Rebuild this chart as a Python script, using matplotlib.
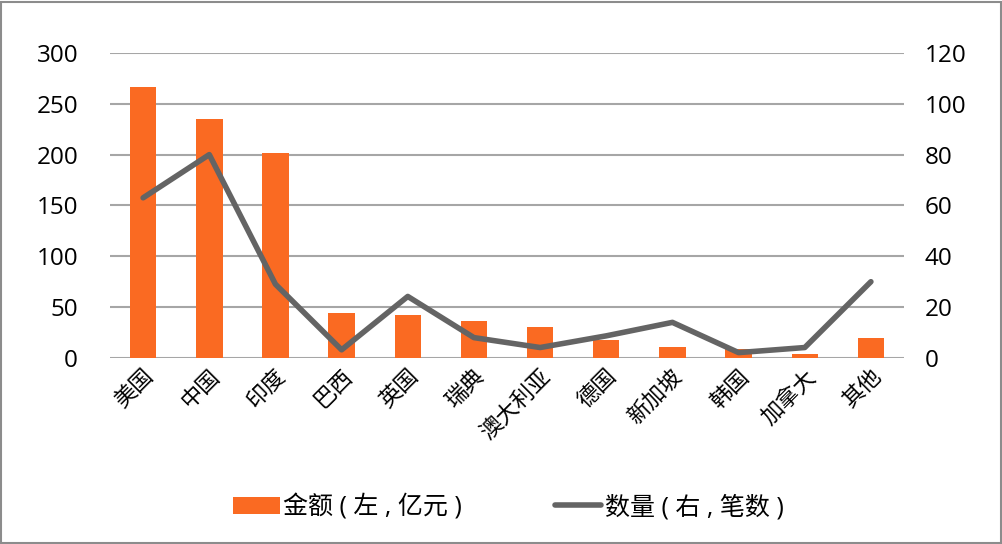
import matplotlib
matplotlib.use('Agg')
import matplotlib.pyplot as plt
import numpy as np
from matplotlib.patches import Rectangle

plt.rcParams['font.family'] = ['Open Sans', 'Noto Sans CJK SC', 'DejaVu Sans']

countries = ['美国', '中国', '印度', '巴西', '英国', '瑞典', '澳大利亚', '德国', '新加坡', '韩国', '加拿大', '其他']
amount = [266.5, 235.5, 201.5, 44, 42, 36.5, 30.5, 17.7, 11.1, 8.8, 4.3, 19.4]   # 亿元, left
count = [63, 80, 29, 3.2, 24.2, 8, 4.1, 8.7, 14, 2.1, 4.1, 30]   # 笔数, right
left_ticks = [0, 50, 100, 150, 200, 250, 300]
right_ticks = [0, 20, 40, 60, 80, 100, 120]

bar_color = '#FA6A22'
line_color = '#646464'
grid_color = '#A6A6A6'

fig = plt.figure(figsize=(10.03, 5.44), dpi=100)
ax = fig.add_axes([0.1097, 0.342, 0.7916, 0.5607])
ax2 = ax.twinx()

x = np.arange(len(countries))
ax.bar(x, amount, width=0.4, color=bar_color, zorder=2, label='金额 ( 左 , 亿元 )')
ax2.plot(x, count, color=line_color, lw=4, solid_capstyle='round', zorder=3, label='数量 ( 右 , 笔数 )')

ax.set_xlim(-0.5, len(countries) - 0.5)
ax.set_ylim(0, 300)
ax2.set_ylim(0, 120)
ax.set_yticks(left_ticks)
ax2.set_yticks(right_ticks)
ax.yaxis.grid(True, color=grid_color, lw=1.5, zorder=0)
ax.set_axisbelow(True)

for a in (ax, ax2):
    for s in a.spines.values():
        s.set_visible(False)
    a.tick_params(length=0, labelsize=17.5, colors='#000000')
ax.tick_params(axis='y', pad=23)
ax2.tick_params(axis='y', pad=15)

ax.set_xticks(x)
ax.set_xticklabels(countries, rotation=45, ha='right', rotation_mode='anchor', fontsize=16)
ax.tick_params(axis='x', pad=6)

h1, l1 = ax.get_legend_handles_labels()
h2, l2 = ax2.get_legend_handles_labels()
fig.legend(h1 + h2, l1 + l2, loc='center', bbox_to_anchor=(0.507, 0.068), ncol=2,
           frameon=False, fontsize=18, handlelength=1.85, handletextpad=0.15,
           columnspacing=3.7)

fig.patches.append(Rectangle((0.001, 0.002), 0.997, 0.995, transform=fig.transFigure,
                             fill=False, edgecolor='#8C8C8C', lw=1.5))

fig.savefig('out.png', dpi=100)
